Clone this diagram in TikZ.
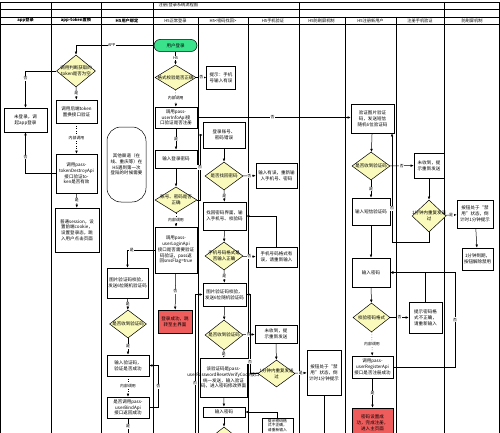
\documentclass[tikz,border=0pt]{standalone}
\usepackage{fontspec}
\setmainfont{Noto Sans CJK SC}
\XeTeXlinebreaklocale "zh"
\XeTeXlinebreakskip=0pt plus .02pt
\usetikzlibrary{shapes.geometric,arrows.meta}
\definecolor{diafill}{RGB}{250,250,188}
\definecolor{termfill}{RGB}{58,226,140}
\definecolor{okfill}{RGB}{238,92,92}
\newcommand{\dtext}[2]{\makebox[0pt]{\parbox{#1}{\centering #2}}}
\begin{document}
\begin{tikzpicture}[x=1pt,y=-1pt,line width=.5pt,>={Latex[length=3.2pt,width=2.6pt]},
  font=\fontsize{4.5}{5.8}\selectfont,
  box/.style={draw,fill=white,align=center,inner sep=1pt,text width=#1},
  dia/.style={diamond,draw,fill=diafill,inner sep=0pt},
  lbl/.style={fill=white,inner sep=.6pt,font=\fontsize{3.9}{4.2}\selectfont},
  head/.style={font=\fontsize{4.2}{4.6}\selectfont},
  call/.style={->,dotted}]
\useasboundingbox (0,0) rectangle (500,433);
\clip (0,0) rectangle (500,433);
\fill[white] (0,0) rectangle (500,433);
\begin{scope}[line width=.7pt]
\draw (.5,2) rectangle (499.5,433);
\foreach \y in {9,17,24} \draw (0,\y) -- (500,\y);
\foreach \x in {51,101,153,299,444} \draw (\x,2) -- (\x,433);
\foreach \x in {198,248,345,396} \draw (\x,17) -- (\x,433);
\end{scope}
\node[head,anchor=west] (title) at (155,5.5) {注册/登录系统流程图};
\foreach \x/\t in {25.5/app登录,76/app-token置换,127/H5用户绑定}
  \node[head,font=\fontsize{4.2}{4.6}\selectfont\bfseries] at (\x,20.5) {\t};
\foreach \x/\t in {175.5/H5正常登录,223/H5<密码找回>,273/H5手机验证,321.5/H5防刷屏机制,370.5/H5注册新用户,420/注册手机验证,472/防刷屏机制}
  \node[head] at (\x,20.5) {\t};

\node[box=41pt,minimum height=24] (nolog) at (25.5,120) {未登录，调起app登录};

\node[dia,minimum width=39,minimum height=32] (token) at (76,71) {\dtext{40pt}{调用判断获取的\\token是否为空}};
\node[box=39pt,minimum height=23] (tokchk) at (76.5,111.5) {调用后端token置换接口验证};
\node[box=39pt,minimum height=39] (destroy) at (76.5,173.5) {调用pass-tokenDestroyApi接口验证token是否有效};
\node[box=42pt,minimum height=44] (session) at (77,230) {普通session，设置前端cookie，设置登录态，跳入用户点击页面};

\node[draw,fill=white,rounded corners=14pt,minimum width=39,minimum height=75,text width=34pt,align=center,inner sep=1pt] (other) at (126.5,164.5) {其他渠道（在线、重庆等）在H5遇到第一次登陆的时候需要};
\node[box=39pt,minimum height=30] (imgbind) at (127.5,283) {图片验证码校验，发送6位随机验证码};
\node[dia,minimum width=37,minimum height=28] (recvbind) at (128,324) {\dtext{40pt}{是否收到验证码}};
\node[box=40pt,minimum height=21] (inbind) at (128,365.5) {输入验证码，验证是否成功};
\node[box=40pt,minimum height=21] (bindapi) at (128,407.5) {是否调用pass-userBindApi接口返回成功};

\node[draw,fill=termfill,rounded corners=6pt,minimum width=43,minimum height=12,inner sep=0pt] (login) at (175.5,45.5) {用户登录};
\node[dia,minimum width=41,minimum height=25] (fmt) at (175.5,77.5) {\dtext{50pt}{格式校验是否正确}};
\node[box=40pt,minimum height=21] (info) at (176,117.5) {调用pass-userInfoApi接口验证是否注册};
\node[box=40pt,minimum height=18] (pwd) at (176,159) {输入登录密码};
\node[dia,minimum width=42,minimum height=26] (acct) at (176,200) {\dtext{40pt}{账号、密码是否\\正确}};
\node[box=40pt,minimum height=46] (loginapi) at (176,250) {调用pass-userLoginApi接口是否需要验证码验证，pass返回smsFlag=true};
\node[box=32pt,minimum height=23,fill=okfill] (ok) at (175,321.5) {登录成功，跳转至主界面};

\node[box=27pt,minimum height=23] (fmterr) at (221,77.5) {提示：手机号输入有误};
\node[box=40pt,minimum height=26] (pwderr) at (224,135) {登录账号、密码错误};
\node[dia,minimum width=38,minimum height=28] (find) at (224,176) {\dtext{40pt}{是否找回密码}};
\node[box=41pt,minimum height=28] (findui) at (224.5,216) {找回密码界面，输入手机号、校验码};
\node[dia,minimum width=38,minimum height=28] (phonefmt) at (224,256) {\dtext{44pt}{手机号码格式是\\否输入正确}};
\node[box=41pt,minimum height=23] (imgfind) at (224.5,294.5) {图片验证码校验，发送6位随机验证码};
\node[dia,minimum width=38,minimum height=30] (recvfind) at (224,335) {\dtext{40pt}{是否收到验证码}};
\node[box=45pt,minimum height=39] (resetcode) at (223.5,377.5) {该验证码是pass-\\\makebox[45pt]{userPasswordResetVerifyCode接口}\\统一发送，输入验证码，进入密码修改界面};
\node[box=40pt,minimum height=10] (inpwd) at (224,412) {输入密码};
\node[dia,minimum width=38,minimum height=30] (pwdchk) at (224,442) {};

\node[box=39pt,minimum height=25] (fmtre) at (276.5,175.5) {输入有误，重新输入手机号、密码};
\node[box=39pt,minimum height=20] (phoneerr) at (276.5,257) {手机号码格式有误，请重新输入};
\node[box=40pt,minimum height=18] (nomsg) at (276,334) {未收到，提示重新发送};
\node[dia,minimum width=37,minimum height=27] (onemin) at (276.5,373.5) {\dtext{40pt}{1分钟内重复发送\\过}};
\node[box=30pt,minimum height=15,inner sep=.5pt,font=\fontsize{3.8}{4.6}\selectfont] (pwdhint) at (277.5,425.5) {提示密码格式不正确，请重新输入};

\node[box=32pt,minimum height=45] (lock) at (324,372.5) {按钮处于“禁用”状态，倒计时1分钟提示};

\node[box=41pt,minimum height=29] (sendreg) at (372.5,118.5) {验证图片验证码，发送短信随机6位验证码};
\node[dia,minimum width=38,minimum height=28] (recvreg) at (371,166) {\dtext{40pt}{是否收到验证码}};
\node[box=36pt,minimum height=27] (smsreg) at (371,211.5) {输入短信验证码};
\node[box=36pt,minimum height=29] (pwdreg) at (371,272.5) {输入密码};
\node[dia,minimum width=37,minimum height=29] (pwdfmt) at (371.5,317.5) {\dtext{40pt}{校验密码格式}};
\node[box=39pt,minimum height=22] (regapi) at (372.5,367) {调用pass-userRegisterApi接口是否注册成功};
\node[box=39pt,minimum height=30,fill=okfill] (regok) at (372.5,423) {密码设置成功，完成注册，进入主页面};

\node[box=28pt,minimum height=25] (nomsgreg) at (429,165.5) {未收到，提示重新发送};
\node[dia,minimum width=34,minimum height=32] (oneminreg) at (429,216) {\dtext{40pt}{1分钟内重复发送\\过}};
\node[box=31pt,minimum height=31] (pwdhintreg) at (425.5,317.5) {提示密码格式不正确，请重新输入};
\node[box=34pt,minimum height=28] (lockreg) at (475,214) {按钮处于“禁用”状态，倒计时1分钟提示};
\node[box=29pt,minimum height=22] (unlock) at (477.5,259) {1分钟到期，按钮解除禁用};

\coordinate (acctup) at (200,200); \coordinate (findup) at (250,373.5); \coordinate (botup) at (195,433);
\coordinate (upreg) at (392,242); \coordinate (regup) at (455,367);
\coordinate (bindend) at (128,433); \coordinate (lockend) at (324,433);

\draw[->] (login.west) -| (token.north) node[lbl,pos=.27]{APP};
\draw[->] (token.west) -| (nolog.north) node[lbl,pos=.6]{否};
\draw[->] (token) -- (tokchk) node[lbl,midway]{是};
\draw[call] (tokchk) -- (destroy) node[lbl,midway]{内部调用};
\draw[->] (destroy.west) -| (nolog.south) node[lbl,pos=.7]{否};
\draw[->] (destroy) -- (session) node[lbl,midway]{是};

\draw[->] (login) -- (fmt) node[lbl,midway]{H5};
\draw[->] (fmt) -- (fmterr) node[lbl,midway]{否};
\draw[call] (fmt) -- (info) node[lbl,midway]{内部调用};
\draw[->] (info.east) -- (sendreg.west |- info.east) node[lbl,pos=.49]{否};
\draw[->] (info) -- (pwd) node[lbl,midway]{是};
\draw[->] (pwd) -- (acct);
\draw[->] (acct.east) -- (acctup) -- (acctup |- pwderr.west) node[lbl,midway]{否} -- (pwderr.west);
\draw[call] (acct) -- (loginapi) node[lbl,midway]{内部调用};
\draw[->] (loginapi) -- (ok) node[lbl,midway]{否};
\draw[->] (loginapi.west) -| (imgbind.north) node[lbl,pos=.42]{是};

\draw[->] (imgbind) -- (recvbind) node[lbl,midway]{是};
\draw[->] (recvbind) -- (inbind) node[lbl,midway]{是};
\draw[call] (inbind) -- (bindapi) node[lbl,midway]{内部调用};
\draw[->] (bindapi.east) -- ++(9,0) |- (inbind.east) node[lbl,pos=.25]{否};
\draw (bindapi) -- (bindend) node[lbl,pos=.55]{是};

\draw[->] (pwderr) -- (find);
\draw[->] (find) -- (fmtre) node[lbl,midway]{否};
\draw[->] (find) -- (findui) node[lbl,midway]{是};
\draw[->] (findui) -- (phonefmt);
\draw[->] (phonefmt) -- (phoneerr) node[lbl,midway]{否};
\draw[->] (phoneerr.north) |- (findui.east);
\draw[->] (phonefmt) -- (imgfind) node[lbl,midway]{是};
\draw[->] (imgfind) -- (recvfind);
\draw[->] (recvfind) -- (nomsg) node[lbl,midway]{否};
\draw[->] (recvfind) -- (resetcode) node[lbl,midway]{是};
\draw[->] (nomsg) -- (onemin);
\draw[->] (onemin.west) -- (findup) -- (findup |- imgfind.east) node[lbl,pos=.15]{否} -- (imgfind.east);
\draw[->] (onemin) -- (lock) node[lbl,midway]{是};
\draw (lock) -- (lockend);
\draw[->] (botup) -- (botup |- imgfind.west) node[lbl,pos=.36]{否} -- (imgfind.west);
\draw[->] (resetcode) -- (inpwd);
\draw[->] (inpwd) -- (pwdchk);
\draw[->] (pwdhint.north) |- (inpwd.east);

\draw[->] (sendreg) -- (recvreg);
\draw[->] (recvreg) -- (nomsgreg) node[lbl,midway]{否};
\draw[->] (recvreg) -- (smsreg) node[lbl,midway]{是};
\draw[->] (nomsgreg) -- (oneminreg);
\draw[->] (oneminreg) -- (lockreg) node[lbl,midway]{是};
\draw[->] (lockreg) -- (unlock);
\draw[->] (oneminreg.south) |- (upreg) -- (upreg |- sendreg.south) node[lbl,pos=.31]{否};
\draw[->] (smsreg) -- (pwdreg);
\draw[->] (pwdreg) -- (pwdfmt);
\draw[->] (pwdfmt) -- (pwdhintreg) node[lbl,midway]{否};
\draw[->] (pwdhintreg.north) |- (pwdreg.east);
\draw[call] (pwdfmt) -- (regapi) node[lbl,midway]{内部调用};
\draw[->] (regapi.east) -- (regup) |- (pwdreg.east) node[lbl,pos=.25]{否};
\draw[->] (regapi) -- (regok) node[lbl,midway]{是};
\end{tikzpicture}
\end{document}
